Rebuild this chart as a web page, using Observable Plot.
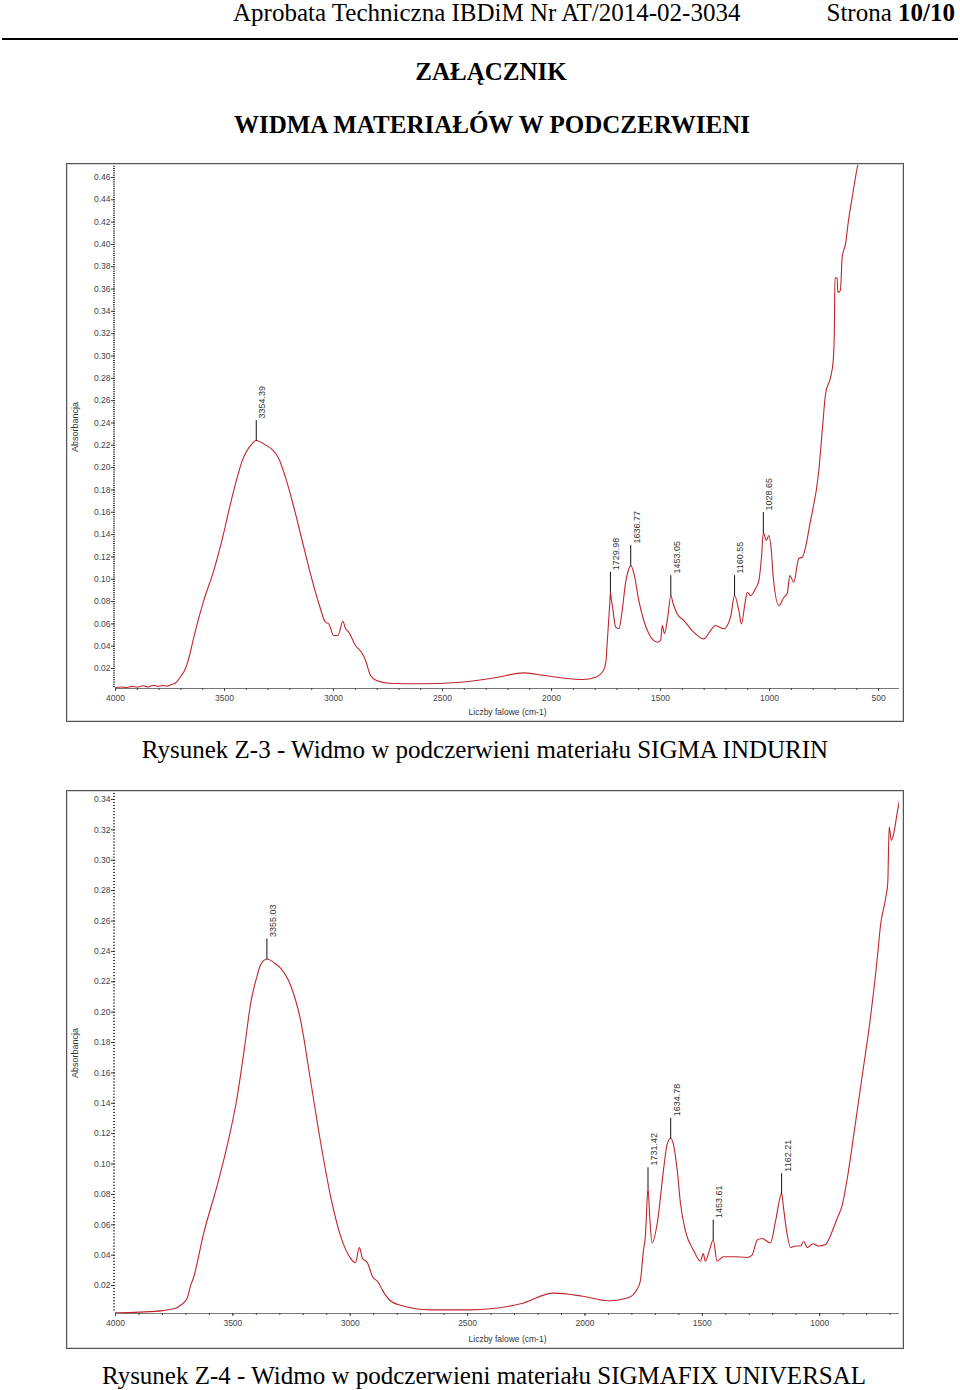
<!DOCTYPE html>
<html><head><meta charset="utf-8">
<script src="https://cdn.jsdelivr.net/npm/d3@7"></script>
<script src="https://cdn.jsdelivr.net/npm/@observablehq/plot@0.6"></script>
<style>
body{margin:0;background:#fff;width:960px;height:1390px;position:relative;overflow:hidden;font-family:"Liberation Serif","Times New Roman",serif;color:#000}
.t{position:absolute;white-space:nowrap;line-height:25px;font-size:25px}
.ctr{transform:translateX(-50%)}
.frame{position:absolute;left:66px;width:838px;height:559px;box-sizing:border-box;border:1px solid #555;box-shadow:inset 0 0 0 1px #d4d4d4}
.frame svg{position:absolute;left:0;top:0}
</style></head><body>
<div class="t" style="left:233px;top:0">Aprobata Techniczna IBDiM Nr AT/2014-02-3034</div>
<div class="t" style="right:5px;top:0">Strona <b>10/10</b></div>
<div style="position:absolute;left:2px;top:38px;width:956px;height:2px;background:#000"></div>
<div class="t ctr" style="left:491px;top:59px;font-weight:bold">ZAŁĄCZNIK</div>
<div class="t ctr" style="left:492px;top:112px;font-weight:bold">WIDMA MATERIAŁÓW W PODCZERWIENI</div>
<div class="frame" id="f1" style="top:163px"></div>
<div class="t ctr" style="left:485px;top:737px">Rysunek Z-3 - Widmo w podczerwieni materiału SIGMA INDURIN</div>
<div class="frame" id="f2" style="top:790px"></div>
<div class="t ctr" style="left:484px;top:1363px">Rysunek Z-4 - Widmo w podczerwieni materiału SIGMAFIX UNIVERSAL</div>
<script>
// ---- Rysunek Z-3 (SIGMA INDURIN) ----
const z3Wavenumber = [4000,3975,3950,3925,3900,3875,3850,3825,3805,3785,3765,3745,3725,3702,3679,3660,3641,3595,3549,3503,3480,3442,3419,3373,3354.39,3320,3251,3220,3182,3144,3106,3067,3037,3022,2999,2980,2957,2945,2930,2899,2868,2853,2830,2803,2744,2610,2416,2261,2126,2030,1914,1856,1798,1763,1750,1745,1733,1729.98,1725,1720,1706,1691,1676,1661,1645,1636.77,1622,1600,1577,1554,1515,1500,1492,1482,1467,1453.05,1442,1424,1393,1355,1301,1271,1248,1210,1179,1160.55,1141,1129,1113,1102,1087,1064,1049,1037,1028.65,1015,1003,992,983,957,934,919,907,889,866,850,812,774,757,743,720,708,703,700,690,687,675,667,651,638,621,606,596,585];
const z3Absorbance = [0.003,0.0035,0.003,0.004,0.0032,0.0045,0.0035,0.005,0.004,0.0048,0.0042,0.0055,0.007,0.0125,0.02,0.032,0.048,0.081,0.108,0.142,0.1616,0.191,0.206,0.2216,0.2243,0.2213,0.208,0.191,0.1645,0.1347,0.105,0.078,0.0615,0.060,0.0496,0.0496,0.0624,0.0558,0.0525,0.0406,0.0334,0.0272,0.0137,0.0092,0.0068,0.0063,0.0077,0.0117,0.0161,0.0137,0.0108,0.0101,0.0122,0.018,0.027,0.0424,0.078,0.0884,0.081,0.075,0.057,0.0556,0.072,0.096,0.1096,0.1123,0.105,0.081,0.063,0.0513,0.0436,0.045,0.0585,0.0513,0.066,0.0854,0.078,0.069,0.063,0.054,0.0466,0.054,0.0585,0.0556,0.066,0.0854,0.072,0.060,0.078,0.0884,0.0854,0.0917,0.0988,0.1197,0.1419,0.1347,0.1392,0.1257,0.1018,0.0764,0.0839,0.0872,0.1033,0.0973,0.1186,0.1197,0.1526,0.1974,0.2362,0.2664,0.281,0.296,0.320,0.370,0.3699,0.357,0.359,0.3885,0.401,0.4214,0.442,0.460,0.4707,0.48];
const z3PeakWavenumber = [3354.39,1729.98,1636.77,1453.05,1160.55,1028.65];
const z3PeakAbsorbance = [0.2243,0.0884,0.1123,0.0854,0.0854,0.1419];
const z3PeakLabels = ["3354.39","1729.98","1636.77","1453.05","1160.55","1028.65"];
const z3XTicks = [4000,3500,3000,2500,2000,1500,1000,500];
const z3YTicks = [0.02,0.04,0.06,0.08,0.10,0.12,0.14,0.16,0.18,0.20,0.22,0.24,0.26,0.28,0.30,0.32,0.34,0.36,0.38,0.40,0.42,0.44,0.46];

// ---- Rysunek Z-4 (SIGMAFIX UNIVERSAL) ----
const z4Wavenumber = [4000,3900,3800,3744,3723,3695,3680,3668,3625,3565,3523,3484,3450,3424,3400,3382,3355.03,3320,3297,3255,3212,3169,3127,3084,3042,2999,2978,2961,2948,2927,2905,2880,2863,2829,2786,2658,2488,2275,2134,2010,1900,1815,1780,1764,1751,1742,1738,1731.42,1724,1714,1692,1664,1650,1634.78,1623,1607,1593,1572,1537,1508,1496,1487,1470,1453.61,1437,1410,1368,1308,1288,1266,1245,1210,1188,1162.21,1154,1139,1124,1103,1082,1068,1053,1028,1005,975,954,926,904,883,856,819,784,755,741,719,710,704,695,684,670,653];
const z4Absorbance = [0.002,0.0025,0.0035,0.005,0.007,0.0115,0.02,0.025,0.054,0.087,0.113,0.142,0.177,0.206,0.222,0.231,0.235,0.232,0.229,0.218,0.195,0.155,0.115,0.079,0.053,0.038,0.035,0.045,0.038,0.035,0.026,0.022,0.017,0.010,0.007,0.004,0.004,0.008,0.015,0.013,0.010,0.012,0.017,0.023,0.043,0.054,0.067,0.0845,0.065,0.048,0.061,0.098,0.113,0.117,0.113,0.096,0.074,0.056,0.043,0.036,0.041,0.036,0.043,0.050,0.036,0.039,0.039,0.0385,0.040,0.050,0.051,0.048,0.0625,0.0805,0.071,0.054,0.045,0.046,0.046,0.049,0.045,0.0475,0.046,0.047,0.053,0.064,0.073,0.090,0.118,0.158,0.196,0.235,0.257,0.275,0.285,0.322,0.313,0.318,0.331,0.345];
const z4PeakWavenumber = [3355.03,1731.42,1634.78,1453.61,1162.21];
const z4PeakAbsorbance = [0.235,0.0845,0.117,0.050,0.0805];
const z4PeakLabels = ["3355.03","1731.42","1634.78","1453.61","1162.21"];
const z4XTicks = [4000,3500,3000,2500,2000,1500,1000];
const z4YTicks = [0.02,0.04,0.06,0.08,0.10,0.12,0.14,0.16,0.18,0.20,0.22,0.24,0.26,0.28,0.30,0.32,0.34];

const yLabel = "Absorbancja";
const xLabel = "Liczby falowe (cm-1)";

function spectrum({wn, ab, pw, pa, pl, xTicks, yTicks, xDomain, yDomain, marginBottom, xLabelDy}) {
  const data = wn.map((w, i) => ({wn: w, a: ab[i]}));
  const peaks = pw.map((w, i) => ({wn: w, a: pa[i], label: pl[i]}));
  const xMinor = d3.range(Math.ceil(xDomain[1] / 100) * 100, 4001, 100);
  const yMinor = d3.range(0.004, yDomain[1], 0.002);
  const spike = {draw(ctx, l) { ctx.moveTo(0, 0); ctx.lineTo(0, -l); }};
  return Plot.plot({
    width: 836, height: 557,
    marginLeft: 48, marginRight: 4, marginTop: 1, marginBottom,
    x: {domain: xDomain},
    y: {domain: yDomain},
    style: {background: "transparent", fontFamily: "'Liberation Sans', Arial, sans-serif", fontSize: "8.5px", color: "#333", overflow: "visible"},
    marks: [
      Plot.axisY(yMinor, {tickSize: 2, fill: "none", stroke: "#333", label: null}),
      Plot.axisY(yTicks, {tickSize: 4, tickPadding: 1, tickFormat: d => d.toFixed(2), stroke: "#333", fill: "#444", label: null}),
      Plot.ruleY([yDomain[0]], {stroke: "#777"}),
      Plot.axisX(xMinor, {tickSize: 2, fill: "none", stroke: "#444", label: null}),
      Plot.axisX(xTicks, {tickSize: 3, tickPadding: 3, tickFormat: d => String(d), stroke: "#444", fill: "#444", label: null}),
      Plot.lineY(data, {x: "wn", y: "a", stroke: "#c0262c", strokeWidth: 1.1, curve: "monotone-x", clip: true}),
      Plot.vector(peaks, {x: "wn", y: "a", length: 20, rotate: 0, anchor: "start", shape: spike, stroke: "#111", strokeWidth: 1}),
      Plot.text(peaks, {x: "wn", y: "a", text: "label", rotate: -90, textAnchor: "start", dx: 6, dy: -22, fontSize: 9, fill: "#333"}),
      Plot.text([yLabel], {frameAnchor: "left", textAnchor: "middle", lineAnchor: "middle", rotate: -90, dx: -40, fontSize: 9, fill: "#333"}),
      Plot.text([xLabel], {frameAnchor: "bottom", textAnchor: "middle", lineAnchor: "middle", dy: xLabelDy, fontSize: 8.5, fill: "#333"})
    ]
  });
}

document.getElementById("f1").appendChild(spectrum({
  wn: z3Wavenumber, ab: z3Absorbance, pw: z3PeakWavenumber, pa: z3PeakAbsorbance, pl: z3PeakLabels,
  xTicks: z3XTicks, yTicks: z3YTicks, xDomain: [4000, 404], yDomain: [0.0021, 0.4707],
  marginBottom: 33, xLabelDy: 24
}));
document.getElementById("f2").appendChild(spectrum({
  wn: z4Wavenumber, ab: z4Absorbance, pw: z4PeakWavenumber, pa: z4PeakAbsorbance, pl: z4PeakLabels,
  xTicks: z4XTicks, yTicks: z4YTicks, xDomain: [4000, 660], yDomain: [0.0016, 0.3446],
  marginBottom: 35, xLabelDy: 26
}));
</script>
</body></html>
